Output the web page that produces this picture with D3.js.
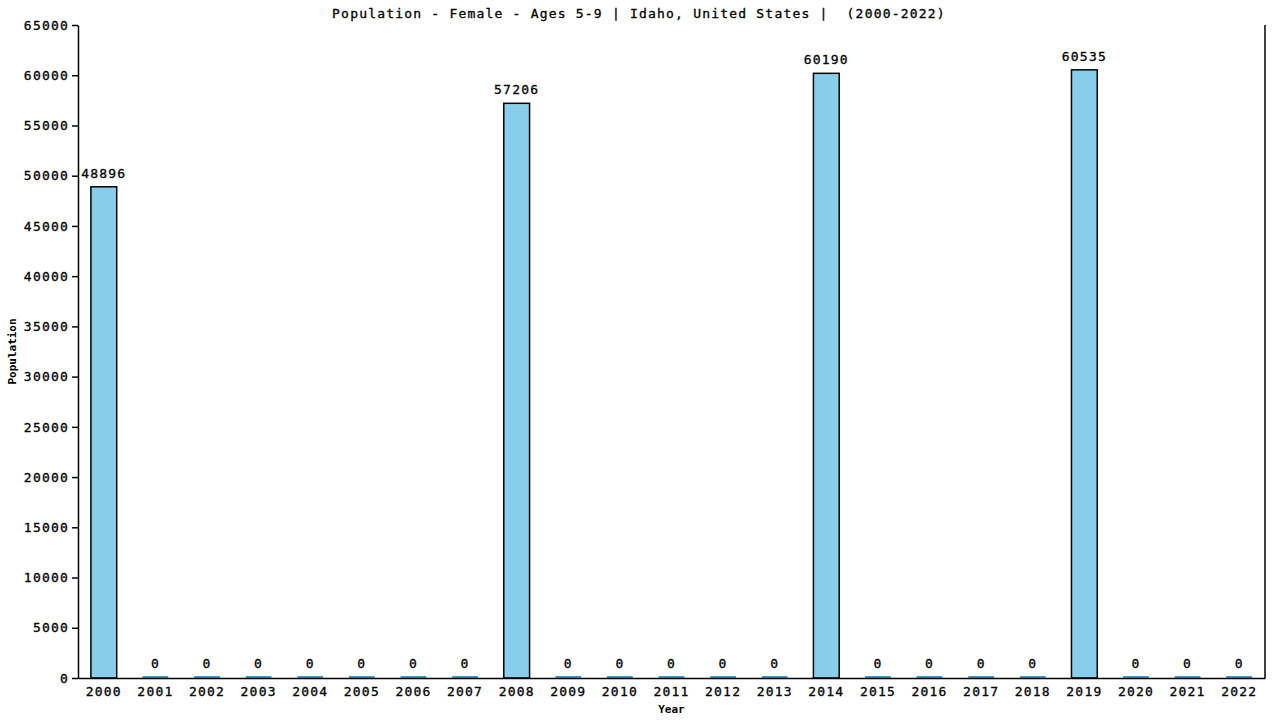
<!DOCTYPE html>
<html>
<head>
<meta charset="utf-8">
<script src="https://cdn.jsdelivr.net/npm/d3@7"></script>
<style>
  body { margin: 0; background: #fff; }
  text { font-family: "DejaVu Sans Mono", monospace; }
  .lbl { stroke: #000; stroke-width: 0.3px; }
</style>
</head>
<body>
<div id="chart"></div>
<script>
// data
var years = ['2000','2001','2002','2003','2004','2005','2006','2007','2008','2009','2010',
             '2011','2012','2013','2014','2015','2016','2017','2018','2019','2020','2021','2022'];
var population = [48896,0,0,0,0,0,0,0,57206,0,0,0,0,0,60190,0,0,0,0,60535,0,0,0];
var yTicks = [0,5000,10000,15000,20000,25000,30000,35000,40000,45000,50000,55000,60000,65000];

var W = 1280, H = 720;
var margin = {top: 25, left: 78, right: 15, bottom: 42},
    width = W - margin.left - margin.right,
    height = H - margin.top - margin.bottom;

var svg = d3.select('#chart').append('svg')
    .attr('width', W)
    .attr('height', H);

var g = svg.append('g')
    .attr('transform', 'translate(' + margin.left + ',' + margin.top + ')');

var x = d3.scaleBand()
    .domain(years)
    .range([0, width])
    .paddingInner(0.5)
    .paddingOuter(0.25);

var y = d3.scaleLinear()
    .domain([0, 65000])
    .range([height, 0]);

var rows = years.map(function(yr, i) { return {year: yr, value: population[i]}; });

// bars
g.selectAll('.bar')
    .data(rows.filter(function(d) { return d.value > 0; }))
    .enter().append('rect')
    .attr('class', 'bar')
    .attr('x', function(d) { return x(d.year); })
    .attr('y', function(d) { return y(d.value); })
    .attr('width', x.bandwidth())
    .attr('height', function(d) { return y(0) - y(d.value); })
    .attr('fill', '#87ceeb')
    .attr('stroke', '#000')
    .attr('stroke-width', 1.5);

// zero years get a thin strip on the baseline
g.selectAll('.zero')
    .data(rows.filter(function(d) { return d.value === 0; }))
    .enter().append('rect')
    .attr('class', 'zero')
    .attr('x', function(d) { return x(d.year); })
    .attr('y', y(0) - 2)
    .attr('width', x.bandwidth())
    .attr('height', 2)
    .attr('fill', '#3d9ccb');

// value labels
g.selectAll('.val')
    .data(rows)
    .enter().append('text')
    .attr('class', 'val lbl')
    .attr('x', function(d) { return x(d.year) + x.bandwidth() / 2; })
    .attr('y', function(d) { return y(d.value) - (d.value === 0 ? 10 : 9); })
    .attr('text-anchor', 'middle')
    .attr('font-size', '13px')
    .attr('letter-spacing', '1.2px')
    .attr('fill', '#000')
    .text(function(d) { return d.value; });

// axes
var yAxis = g.append('g')
    .call(d3.axisLeft(y).tickValues(yTicks).tickSize(6).tickSizeOuter(0).tickFormat(d3.format('d')));
yAxis.selectAll('text').attr('class', 'lbl').attr('font-size', '13px').attr('letter-spacing', '1.2px')
    .attr('font-family', '"DejaVu Sans Mono", monospace').attr('fill', '#000');
yAxis.selectAll('line, path').attr('stroke', '#000').attr('stroke-width', 1.5);

var xAxis = g.append('g')
    .attr('transform', 'translate(0,' + height + ')')
    .call(d3.axisBottom(x).tickSize(0).tickPadding(9));
xAxis.selectAll('text').attr('class', 'lbl').attr('font-size', '13px').attr('letter-spacing', '1.2px')
    .attr('font-family', '"DejaVu Sans Mono", monospace').attr('fill', '#000');
xAxis.selectAll('path').attr('stroke', '#000').attr('stroke-width', 1.5);

// right frame line
g.append('line')
    .attr('x1', width).attr('x2', width)
    .attr('y1', 0).attr('y2', height)
    .attr('stroke', '#000')
    .attr('stroke-width', 1.5);

// title and axis titles
svg.append('text')
    .attr('class', 'lbl')
    .attr('x', 639)
    .attr('y', 18)
    .attr('text-anchor', 'middle')
    .attr('font-size', '13px')
    .attr('letter-spacing', '1.2px')
    .attr('xml:space', 'preserve')
    .style('white-space', 'pre')
    .text('Population - Female - Ages 5-9 | Idaho, United States |  (2000-2022)');

svg.append('text')
    .attr('x', margin.left + width / 2)
    .attr('y', 713)
    .attr('text-anchor', 'middle')
    .attr('font-size', '11px')
    .attr('font-weight', 'bold')
    .text('Year');

svg.append('text')
    .attr('transform', 'translate(16,' + (margin.top + height / 2) + ') rotate(-90)')
    .attr('text-anchor', 'middle')
    .attr('font-size', '11px')
    .attr('font-weight', 'bold')
    .text('Population');
</script>
</body>
</html>
